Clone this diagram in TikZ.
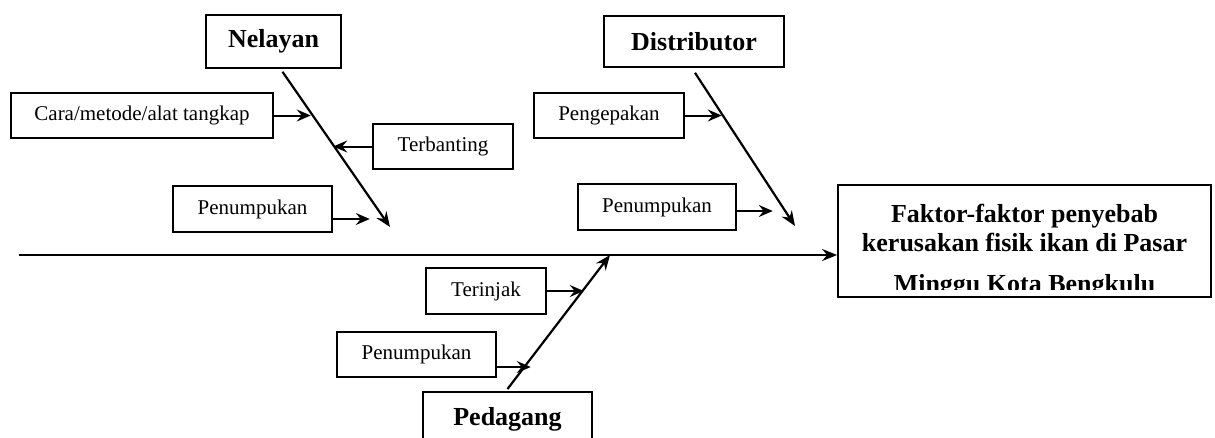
\documentclass[tikz,border=0pt]{standalone}
\usepackage{fontspec}
\setmainfont{Liberation Serif}
\usetikzlibrary{positioning,arrows.meta}

\tikzset{
  causebox/.style={draw,line width=1.5pt,inner sep=0pt,minimum height=45pt,
    font=\fontsize{21}{25}\selectfont},
  groupbox/.style={draw,line width=1.6pt,inner sep=0pt,
    font=\fontsize{26}{30}\selectfont\bfseries},
  bone/.style={line width=2.2pt,-{Stealth[length=15pt,width=12pt,inset=5pt]}},
  twig/.style={line width=2pt,-{Stealth[length=14pt,width=12pt,inset=5pt]}},
  restxt/.style={anchor=base,inner sep=0pt,font=\fontsize{26}{30}\selectfont\bfseries}
}

\begin{document}
\begin{tikzpicture}[x=1pt,y=-1pt]
            \useasboundingbox (0,0) rectangle (1215,437);
            % Groups
            \node[groupbox,minimum width=135pt,minimum height=53pt] (nel) at (273.5,41.5) {Nelayan};
            \node[groupbox,minimum width=180pt,minimum height=51pt] (dist) at (694,41.5) {Distributor};
            \node[groupbox,minimum width=169pt,minimum height=70pt,anchor=north] (ped) at (507.5,391) {};
            \node[restxt] (pedtxt) at (507.5,425) {Pedagang};
            % Causes
            \node[causebox,minimum width=262pt] (cara) at (142,115.5) {Cara/metode/alat tangkap};
            \node[causebox,minimum width=140pt] (terb) at (443,146.5) {Terbanting};
            \node[causebox,minimum width=159pt,minimum height=46pt] (pen1) at (252.5,209) {Penumpukan};
            \node[causebox,minimum width=150pt] (peng) at (609,115.5) {Pengepakan};
            \node[causebox,minimum width=158pt,minimum height=46pt] (pen2) at (657,207) {Penumpukan};
            \node[causebox,minimum width=120pt,minimum height=46pt] (terin) at (486,291) {Terinjak};
            \node[causebox,minimum width=159pt] (pen3) at (416.5,354.5) {Penumpukan};
            % Effect
            \node[draw,line width=1.8pt,inner sep=0pt,minimum width=373pt,minimum height=112pt] (res) at (1024.5,241) {};
            \begin{scope}
            \clip (838,185) rectangle (1211,289);
            \node[restxt] (res1) at (1024.5,222) {Faktor-faktor penyebab};
            \node[restxt] (res2) at (1024.5,251) {kerusakan fisik ikan di Pasar};
            \node[restxt] (res3) at (1024.5,292) {Minggu Kota Bengkulu};
            \end{scope}
            % Spine
            \coordinate (tail) at (19,255);
            \draw[bone] (tail) -- (tail -| res.west);
            \coordinate (nelend) at (390,227);
            \draw[bone] ([xshift=9pt,yshift=-3pt]nel.south) -- (nelend);
            \coordinate (distend) at (795,226);
            \draw[bone] ([xshift=1pt,yshift=-5pt]dist.south) -- (distend);
            \coordinate (pedend) at (610,255);
            \draw[bone] ([yshift=2pt]ped.north) -- (pedend);
            % Cause arrows
            \draw[twig] (cara.east) -- ++(37,0);
            \draw[twig] (terb.west) -- ++(-39,0);
            \draw[twig] ([yshift=-10pt]pen1.east) -- ++(37,0);
            \draw[twig] (peng.east) -- ++(37,0);
            \draw[twig] ([yshift=-4pt]pen2.east) -- ++(36,0);
            \draw[twig] (terin.east) -- ++(37,0);
            \draw[twig] ([yshift=-12.5pt]pen3.east) -- ++(34,0);
           \end{tikzpicture}
\end{document}
